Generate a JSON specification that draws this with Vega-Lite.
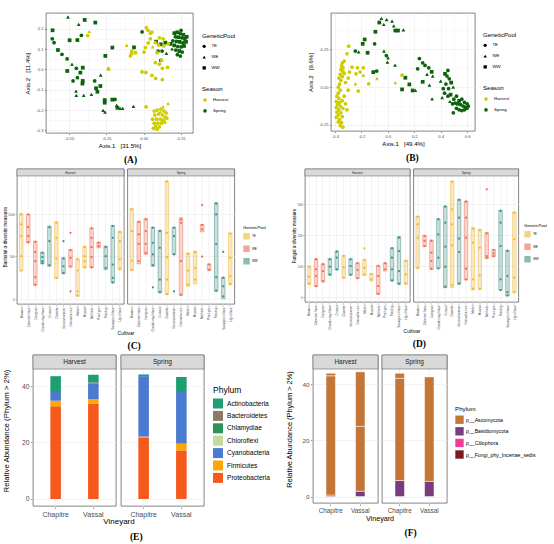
{
  "$schema": "https://vega.github.io/schema/vega-lite/v6.json",
  "padding": {"top": 12, "left": 1, "right": 0, "bottom": 0},
  "background": "white",
  "config": {
    "font": "Liberation Sans",
    "view": {"stroke": "#333333", "strokeWidth": 0.6},
    "axis": {"domain": false, "grid": true, "gridColor": "#ebebeb", "gridWidth": 0.6, "labelColor": "#4d4d4d", "tickColor": "#333333", "tickSize": 1.5, "tickWidth": 0.5, "titleColor": "#000000", "titleFontWeight": "normal", "labelPadding": 1.5, "titlePadding": 3},
    "header": {"titleFont": "Liberation Sans", "titleFontWeight": "normal", "titleColor": "#000000"},
    "legend": {"titleFontWeight": "normal", "titleColor": "#000000", "labelColor": "#000000", "layout": {"right": {"anchor": "middle", "direction": "vertical", "margin": 16}}},
    "title": {"font": "Liberation Serif", "fontWeight": "bold", "fontSize": 9.5, "color": "#000000", "orient": "bottom", "frame": "bounds", "anchor": "middle"}
  },
  "resolve": {"scale": {"color": "independent", "shape": "independent"}},
  "columns": 1,
  "spacing": 3,
  "concat": [
    {
      "resolve": {"scale": {"color": "independent", "shape": "independent"}},
      "spacing": 22,
      "hconcat": [
        {"width": 1, "height": 1, "view": {"stroke": null}, "data": {"values": [{"gap": 0}]}, "mark": {"type": "point", "size": 0, "opacity": 0}, "encoding": {}},
        {
          "resolve": {"scale": {"color": "independent", "shape": "independent"}},
          "spacing": 70,
          "hconcat": [
            {
              "title": {"text": "(A)", "offset": 7},
              "width": 147, "height": 120,
              "data": {"name": "ordA"},
              "encoding": {
                "x": {"field": "Axis1", "type": "quantitative", "title": "Axis.1\u00a0\u00a0\u00a0[31.5%]",
                  "scale": {"domain": [-0.654, 0.33], "nice": false, "zero": false},
                  "axis": {"values": [-0.625, -0.5, -0.375, -0.25, -0.125, 0, 0.125, 0.25],
                    "labelExpr": "abs(datum.value*4-round(datum.value*4))<1e-6 ? replace(format(datum.value,'.2f'),'\u2212','-') : ''",
                    "tickOpacity": {"condition": {"test": "abs(datum.value*4-round(datum.value*4))<1e-6", "value": 1}, "value": 0},
                    "gridWidth": {"condition": {"test": "abs(datum.value*4-round(datum.value*4))<1e-6", "value": 0.6}, "value": 0.3},
                    "labelFontSize": 4.1, "titleFontSize": 6.1, "titlePadding": 2}},
                "y": {"field": "Axis2", "type": "quantitative", "title": "Axis.2\u00a0\u00a0\u00a0[11.4%]",
                  "scale": {"domain": [-0.313, 0.277], "nice": false, "zero": false},
                  "axis": {"values": [-0.3, -0.25, -0.2, -0.15, -0.1, -0.05, 0, 0.05, 0.1, 0.15, 0.2, 0.25],
                    "labelExpr": "abs(datum.value*10-round(datum.value*10))<1e-6 ? replace(format(datum.value,'.1f'),'\u2212','-') : ''",
                    "tickOpacity": {"condition": {"test": "abs(datum.value*10-round(datum.value*10))<1e-6", "value": 1}, "value": 0},
                    "gridWidth": {"condition": {"test": "abs(datum.value*10-round(datum.value*10))<1e-6", "value": 0.6}, "value": 0.3},
                    "labelFontSize": 4.1, "titleFontSize": 6.1, "titlePadding": 5}}
              },
              "layer": [
                {"mark": {"type": "point", "filled": true, "size": 5, "color": "#000000", "opacity": 1},
                 "encoding": {"shape": {"field": "GeneticPool", "type": "nominal", "scale": {"domain": ["TE", "WE", "WW"], "range": ["circle", "triangle-up", "square"]},
                   "legend": {"title": "GeneticPool", "titleFontSize": 6.1, "labelFontSize": 4.4, "symbolSize": 11, "symbolFillColor": "#000000", "symbolStrokeColor": "#000000", "symbolStrokeWidth": 0, "rowPadding": 5.8, "titlePadding": 5, "offset": 9, "labelOffset": 5}}}},
                {"mark": {"type": "point", "filled": true, "size": 14, "opacity": 1},
                 "encoding": {
                   "shape": {"field": "GeneticPool", "type": "nominal"},
                   "color": {"field": "Season", "type": "nominal", "scale": {"domain": ["Harvest", "Spring"], "range": ["#CDCD00", "#0B640B"]},
                     "legend": {"title": "Season", "titleFontSize": 6.1, "labelFontSize": 4.4, "symbolSize": 13, "symbolType": "circle", "rowPadding": 5.8, "titlePadding": 5, "offset": 9, "labelOffset": 5}}}}
              ]
            },
            {
              "title": {"text": "(B)", "offset": 7},
              "width": 144, "height": 118,
              "data": {"name": "ordB"},
              "encoding": {
                "x": {"field": "Axis1", "type": "quantitative", "title": "Axis.1\u00a0\u00a0\u00a0[49.4%]",
                  "scale": {"domain": [-0.43, 0.66], "nice": false, "zero": false},
                  "axis": {"values": [-0.4, -0.3, -0.2, -0.1, 0, 0.1, 0.2, 0.3, 0.4, 0.5, 0.6],
                    "labelExpr": "abs(datum.value*5-round(datum.value*5))<1e-6 ? replace(format(datum.value,'.1f'),'\u2212','-') : ''",
                    "tickOpacity": {"condition": {"test": "abs(datum.value*5-round(datum.value*5))<1e-6", "value": 1}, "value": 0},
                    "gridWidth": {"condition": {"test": "abs(datum.value*5-round(datum.value*5))<1e-6", "value": 0.6}, "value": 0.3},
                    "labelFontSize": 4.1, "titleFontSize": 6.1, "titlePadding": 2}},
                "y": {"field": "Axis2", "type": "quantitative", "title": "Axis.2\u00a0\u00a0\u00a0[9.6%]",
                  "scale": {"domain": [-0.29, 0.49], "nice": false, "zero": false},
                  "axis": {"values": [-0.25, -0.125, 0, 0.125, 0.25, 0.375],
                    "labelExpr": "abs(datum.value*4-round(datum.value*4))<1e-6 ? replace(format(datum.value,'.2f'),'\u2212','-') : ''",
                    "tickOpacity": {"condition": {"test": "abs(datum.value*4-round(datum.value*4))<1e-6", "value": 1}, "value": 0},
                    "gridWidth": {"condition": {"test": "abs(datum.value*4-round(datum.value*4))<1e-6", "value": 0.6}, "value": 0.3},
                    "labelFontSize": 4.1, "titleFontSize": 6.1, "titlePadding": 5}}
              },
              "layer": [
                {"mark": {"type": "point", "filled": true, "size": 5, "color": "#000000", "opacity": 1},
                 "encoding": {"shape": {"field": "GeneticPool", "type": "nominal", "scale": {"domain": ["TE", "WE", "WW"], "range": ["circle", "triangle-up", "square"]},
                   "legend": {"title": "GeneticPool", "titleFontSize": 6.1, "labelFontSize": 4.4, "symbolSize": 11, "symbolFillColor": "#000000", "symbolStrokeColor": "#000000", "symbolStrokeWidth": 0, "rowPadding": 5.8, "titlePadding": 5, "offset": 8, "labelOffset": 5}}}},
                {"mark": {"type": "point", "filled": true, "size": 14, "opacity": 1},
                 "encoding": {
                   "shape": {"field": "GeneticPool", "type": "nominal"},
                   "color": {"field": "Season", "type": "nominal", "scale": {"domain": ["Harvest", "Spring"], "range": ["#CDCD00", "#0B640B"]},
                     "legend": {"title": "Season", "titleFontSize": 6.1, "labelFontSize": 4.4, "symbolSize": 13, "symbolType": "circle", "rowPadding": 5.8, "titlePadding": 5, "offset": 8, "labelOffset": 5}}}}
              ]
            }
          ]
        }
      ]
    },
    {
      "resolve": {"scale": {"color": "independent"}},
      "spacing": 0,
      "hconcat": [
        {"width": 1, "height": 1, "view": {"stroke": null}, "data": {"values": [{"gap": 0}]}, "mark": {"type": "point", "size": 0, "opacity": 0}, "encoding": {}},
        {
          "resolve": {"scale": {"color": "independent"}},
          "spacing": 25,
          "hconcat": [
            {
              "title": {"text": "(C)", "offset": 5},
              "data": {"name": "alphaBac"},
              "facet": {"column": {"field": "Season", "type": "nominal", "title": "Cultivar", "header": {"labels": false, "titleOrient": "bottom", "titleFontSize": 5, "titlePadding": -11}}},
              "spacing": 1.5,
              "spec": {
                "width": 107, "height": 135,
                "layer": [
                  {"transform": [{"filter": "isValid(datum.High)"}],
                   "mark": {"type": "bar", "width": {"band": 0.5}, "fillOpacity": 0.25},
                   "encoding": {
                     "x": {"field": "Cultivar", "type": "nominal", "title": null, "scale": {"paddingInner": 0, "paddingOuter": 0.1},
                       "axis": {"labelAngle": -90, "labelFontSize": 3, "grid": true, "bandPosition": 0.5, "tickSize": 1, "labelPadding": 1}},
                     "y": {"field": "Low", "type": "quantitative", "title": "Bacterial α-diversity measures",
                       "scale": {"domain": [-59, 1525], "nice": false, "zero": false},
                       "axis": {"values": [0, 250, 500, 750, 1000, 1250],
                         "labelExpr": "datum.value % 500 === 0 ? format(datum.value,'d') : ''",
                         "tickOpacity": {"condition": {"test": "datum.value % 500 === 0", "value": 1}, "value": 0},
                         "gridWidth": {"condition": {"test": "datum.value % 500 === 0", "value": 0.6}, "value": 0.3},
                         "labelFontSize": 2.8, "titleFontSize": 4.5, "tickSize": 1, "labelPadding": 1, "titlePadding": 0.5}},
                     "y2": {"field": "High"},
                     "color": {"field": "GeneticPool", "type": "nominal", "scale": {"domain": ["TE", "WE", "WW"], "range": ["#F0B52E", "#EF6A4F", "#3E8E84"]},
                       "legend": {"title": "GeneticPool", "orient": "none", "legendX": 226, "legendY": 57, "titleFontSize": 4.2, "labelFontSize": 3, "symbolType": "square", "symbolSize": 24, "symbolOpacity": 0.6, "rowPadding": 1.5, "titlePadding": 2.5, "labelOffset": 2}}}},
                  {"transform": [{"filter": "isValid(datum.High)"}],
                   "mark": {"type": "bar", "width": {"band": 0.5}, "filled": false, "strokeWidth": 0.5},
                   "encoding": {
                     "x": {"field": "Cultivar", "type": "nominal", "title": null},
                     "y": {"field": "Low", "type": "quantitative", "title": "Bacterial α-diversity measures"},
                     "y2": {"field": "High"},
                     "color": {"field": "GeneticPool", "type": "nominal"}}},
                  {"transform": [{"filter": "isValid(datum.Diversity)"}],
                   "mark": {"type": "circle", "size": 5, "opacity": 1},
                   "encoding": {
                     "x": {"field": "Cultivar", "type": "nominal", "title": null},
                     "y": {"field": "Diversity", "type": "quantitative", "title": "Bacterial α-diversity measures"},
                     "color": {"field": "GeneticPool", "type": "nominal"}}},
                  {"transform": [{"aggregate": [{"op": "count", "as": "n"}], "groupby": ["Season"]}],
                   "mark": {"type": "rect", "fill": "#d9d9d9", "stroke": "#333333", "strokeWidth": 0.4},
                   "encoding": {"y": {"datum": 1443, "type": "quantitative", "title": "Bacterial α-diversity measures"}, "y2": {"datum": 1525}}},
                  {"transform": [{"aggregate": [{"op": "count", "as": "n"}], "groupby": ["Season"]}],
                   "mark": {"type": "text", "fontSize": 3, "color": "#1a1a1a"},
                   "encoding": {"y": {"datum": 1484, "type": "quantitative", "title": "Bacterial α-diversity measures"}, "text": {"field": "Season"}}}
                ]
              }
            },
            {
              "title": {"text": "(D)", "offset": 5},
              "data": {"name": "alphaFun"},
              "facet": {"column": {"field": "Season", "type": "nominal", "title": "Cultivar", "header": {"labels": false, "titleOrient": "bottom", "titleFontSize": 5, "titlePadding": -11}}},
              "spacing": 1.5,
              "spec": {
                "width": 105, "height": 133,
                "layer": [
                  {"transform": [{"filter": "isValid(datum.High)"}],
                   "mark": {"type": "bar", "width": {"band": 0.5}, "fillOpacity": 0.25},
                   "encoding": {
                     "x": {"field": "Cultivar", "type": "nominal", "title": null, "scale": {"paddingInner": 0, "paddingOuter": 0.1},
                       "axis": {"labelAngle": -90, "labelFontSize": 3, "grid": true, "bandPosition": 0.5, "tickSize": 1, "labelPadding": 1}},
                     "y": {"field": "Low", "type": "quantitative", "title": "Fungal α-diversity measure",
                       "scale": {"domain": [-16, 411.5], "nice": false, "zero": false},
                       "axis": {"values": [0, 50, 100, 150, 200, 250, 300, 350],
                         "labelExpr": "datum.value % 100 === 0 ? format(datum.value,'d') : ''",
                         "tickOpacity": {"condition": {"test": "datum.value % 100 === 0", "value": 1}, "value": 0},
                         "gridWidth": {"condition": {"test": "datum.value % 100 === 0", "value": 0.6}, "value": 0.3},
                         "labelFontSize": 2.8, "titleFontSize": 4.5, "tickSize": 1, "labelPadding": 1, "titlePadding": 0.5}},
                     "y2": {"field": "High"},
                     "color": {"field": "GeneticPool", "type": "nominal", "scale": {"domain": ["TE", "WE", "WW"], "range": ["#F0B52E", "#EF6A4F", "#3E8E84"]},
                       "legend": {"title": "GeneticPool", "orient": "none", "legendX": 219, "legendY": 55, "titleFontSize": 4.2, "labelFontSize": 3, "symbolType": "square", "symbolSize": 24, "symbolOpacity": 0.6, "rowPadding": 1.5, "titlePadding": 2.5, "labelOffset": 2}}}},
                  {"transform": [{"filter": "isValid(datum.High)"}],
                   "mark": {"type": "bar", "width": {"band": 0.5}, "filled": false, "strokeWidth": 0.5},
                   "encoding": {
                     "x": {"field": "Cultivar", "type": "nominal", "title": null},
                     "y": {"field": "Low", "type": "quantitative", "title": "Fungal α-diversity measure"},
                     "y2": {"field": "High"},
                     "color": {"field": "GeneticPool", "type": "nominal"}}},
                  {"transform": [{"filter": "isValid(datum.Diversity)"}],
                   "mark": {"type": "circle", "size": 5, "opacity": 1},
                   "encoding": {
                     "x": {"field": "Cultivar", "type": "nominal", "title": null},
                     "y": {"field": "Diversity", "type": "quantitative", "title": "Fungal α-diversity measure"},
                     "color": {"field": "GeneticPool", "type": "nominal"}}},
                  {"transform": [{"aggregate": [{"op": "count", "as": "n"}], "groupby": ["Season"]}],
                   "mark": {"type": "rect", "fill": "#d9d9d9", "stroke": "#333333", "strokeWidth": 0.4},
                   "encoding": {"y": {"datum": 389, "type": "quantitative", "title": "Fungal α-diversity measure"}, "y2": {"datum": 411.5}}},
                  {"transform": [{"aggregate": [{"op": "count", "as": "n"}], "groupby": ["Season"]}],
                   "mark": {"type": "text", "fontSize": 3, "color": "#1a1a1a"},
                   "encoding": {"y": {"datum": 400, "type": "quantitative", "title": "Fungal α-diversity measure"}, "text": {"field": "Season"}}}
                ]
              }
            }
          ]
        }
      ]
    },
    {
      "resolve": {"scale": {"color": "independent"}},
      "spacing": 0,
      "hconcat": [
        {"width": 1, "height": 1, "view": {"stroke": null}, "data": {"values": [{"gap": 0}]}, "mark": {"type": "point", "size": 0, "opacity": 0}, "encoding": {}},
        {
          "resolve": {"scale": {"color": "independent"}},
          "spacing": 15,
          "hconcat": [
            {
              "title": {"text": "(E)", "offset": 6},
              "data": {"name": "bacPhyla"},
              "facet": {"column": {"field": "Season", "type": "nominal", "title": "Vineyard", "header": {"labels": false, "titleOrient": "bottom", "titleFontSize": 8, "titlePadding": -9}}},
              "spacing": 3,
              "spec": {
                "width": 83, "height": 151,
                "layer": [
                  {"mark": {"type": "bar", "width": {"band": 0.28}},
                   "encoding": {
                     "x": {"field": "Vineyard", "type": "nominal", "title": null, "scale": {"paddingInner": 0, "paddingOuter": 0.1},
                       "axis": {"labelAngle": 0, "labelFontSize": 7, "grid": true, "bandPosition": 0.5, "labelPadding": 1.5}},
                     "y": {"field": "Abundance", "type": "quantitative", "title": "Relative Abundance (Phylum > 2%)",
                       "scale": {"domain": [-2.5, 51], "nice": false, "zero": false},
                       "axis": {"values": [0, 5, 10, 15, 20, 25, 30, 35, 40, 45],
                         "labelExpr": "datum.value % 10 === 0 ? format(datum.value,'d') : ''",
                         "tickOpacity": {"condition": {"test": "datum.value % 10 === 0", "value": 1}, "value": 0},
                         "gridWidth": {"condition": {"test": "datum.value % 10 === 0", "value": 0.6}, "value": 0.3},
                         "labelFontSize": 6.8, "titleFontSize": 7.8, "titlePadding": 11}},
                     "color": {"field": "Phylum", "type": "nominal",
                       "scale": {"domain": ["Actinobacteria", "Bacteroidetes", "Chlamydiae", "Chloroflexi", "Cyanobacteria", "Firmicutes", "Proteobacteria"],
                         "range": ["#1E9E72", "#8C7A66", "#2A9456", "#C6D99B", "#4A7BD0", "#FFA505", "#F5591C"]},
                       "legend": {"title": "Phylum", "orient": "none", "legendX": 180, "legendY": 31, "titleFontSize": 8.5, "labelFontSize": 6.6, "symbolType": "square", "symbolSize": 100, "symbolStrokeWidth": 0, "rowPadding": 2.4, "titlePadding": 4, "labelOffset": 4}},
                     "order": {"field": "Phylum", "sort": "descending"}}},
                  {"transform": [{"aggregate": [{"op": "count", "as": "n"}], "groupby": ["Season"]}],
                   "mark": {"type": "rect", "fill": "#d9d9d9", "stroke": "#4d4d4d", "strokeWidth": 0.5},
                   "encoding": {"y": {"datum": 46, "type": "quantitative", "title": "Relative Abundance (Phylum > 2%)"}, "y2": {"datum": 51}}},
                  {"transform": [{"aggregate": [{"op": "count", "as": "n"}], "groupby": ["Season"]}],
                   "mark": {"type": "text", "fontSize": 6.6, "color": "#1a1a1a"},
                   "encoding": {"y": {"datum": 48.5, "type": "quantitative", "title": "Relative Abundance (Phylum > 2%)"}, "text": {"field": "Season"}}}
                ]
              }
            },
            {
              "title": {"text": "(F)", "offset": 6},
              "data": {"name": "fungPhyla"},
              "facet": {"column": {"field": "Season", "type": "nominal", "title": "Vineyard", "header": {"labels": false, "titleOrient": "bottom", "titleFontSize": 7.2, "titlePadding": -9}}},
              "spacing": 2,
              "spec": {
                "width": 65, "height": 148,
                "layer": [
                  {"mark": {"type": "bar", "width": {"band": 0.32}, "stroke": "#ffffff", "strokeWidth": 0.5},
                   "encoding": {
                     "x": {"field": "Vineyard", "type": "nominal", "title": null, "scale": {"paddingInner": 0, "paddingOuter": 0.1},
                       "axis": {"labelAngle": 0, "labelFontSize": 6.4, "grid": true, "bandPosition": 0.5, "labelPadding": 1.5}},
                     "y": {"field": "Abundance", "type": "quantitative", "title": "Relative Abundance (Phylum > 2%)",
                       "scale": {"domain": [-2.3, 50.4], "nice": false, "zero": false},
                       "axis": {"values": [0, 5, 10, 15, 20, 25, 30, 35, 40, 45],
                         "labelExpr": "datum.value % 10 === 0 ? format(datum.value,'d') : ''",
                         "tickOpacity": {"condition": {"test": "datum.value % 10 === 0", "value": 1}, "value": 0},
                         "gridWidth": {"condition": {"test": "datum.value % 10 === 0", "value": 0.6}, "value": 0.3},
                         "labelFontSize": 6.2, "titleFontSize": 7.4, "titlePadding": 9}},
                     "color": {"field": "Phylum", "type": "nominal",
                       "scale": {"domain": ["p__Ascomycota", "p__Basidiomycota", "p__Ciliophora", "p__Fungi_phy_Incertae_sedis"],
                         "range": ["#C47636", "#793A80", "#EE3E96", "#7A1C1C"]},
                       "legend": {"title": "Phylum", "orient": "none", "legendX": 142, "legendY": 51, "titleFontSize": 6.2, "labelFontSize": 5.2, "symbolType": "square", "symbolSize": 70, "symbolStrokeWidth": 0, "rowPadding": 2.6, "titlePadding": 3, "labelOffset": 2}},
                     "order": {"field": "Phylum", "sort": "descending"}}},
                  {"transform": [{"aggregate": [{"op": "count", "as": "n"}], "groupby": ["Season"]}],
                   "mark": {"type": "rect", "fill": "#d9d9d9", "stroke": "#4d4d4d", "strokeWidth": 0.5},
                   "encoding": {"y": {"datum": 45.4, "type": "quantitative", "title": "Relative Abundance (Phylum > 2%)"}, "y2": {"datum": 50.4}}},
                  {"transform": [{"aggregate": [{"op": "count", "as": "n"}], "groupby": ["Season"]}],
                   "mark": {"type": "text", "fontSize": 6.4, "color": "#1a1a1a"},
                   "encoding": {"y": {"datum": 47.9, "type": "quantitative", "title": "Relative Abundance (Phylum > 2%)"}, "text": {"field": "Season"}}}
                ]
              }
            }
          ]
        }
      ]
    }
  ],
  "datasets": {
    "ordA": [
      {"Axis1": -0.507, "Axis2": 0.257, "Season": "Spring", "GeneticPool": "WE"},
      {"Axis1": -0.395, "Axis2": 0.243, "Season": "Spring", "GeneticPool": "WW"},
      {"Axis1": -0.435, "Axis2": 0.221, "Season": "Spring", "GeneticPool": "WE"},
      {"Axis1": -0.324, "Axis2": 0.230, "Season": "Spring", "GeneticPool": "WW"},
      {"Axis1": -0.610, "Axis2": 0.192, "Season": "Spring", "GeneticPool": "WW"},
      {"Axis1": -0.612, "Axis2": 0.150, "Season": "Spring", "GeneticPool": "TE"},
      {"Axis1": -0.600, "Axis2": 0.131, "Season": "Spring", "GeneticPool": "TE"},
      {"Axis1": -0.574, "Axis2": 0.095, "Season": "Spring", "GeneticPool": "WW"},
      {"Axis1": -0.547, "Axis2": 0.074, "Season": "Spring", "GeneticPool": "TE"},
      {"Axis1": -0.496, "Axis2": 0.143, "Season": "Spring", "GeneticPool": "WW"},
      {"Axis1": -0.444, "Axis2": 0.144, "Season": "Spring", "GeneticPool": "WW"},
      {"Axis1": -0.417, "Axis2": 0.167, "Season": "Spring", "GeneticPool": "TE"},
      {"Axis1": -0.513, "Axis2": 0.051, "Season": "Spring", "GeneticPool": "TE"},
      {"Axis1": -0.480, "Axis2": 0.025, "Season": "Spring", "GeneticPool": "WE"},
      {"Axis1": -0.512, "Axis2": -0.008, "Season": "Spring", "GeneticPool": "WW"},
      {"Axis1": -0.451, "Axis2": 0.005, "Season": "Spring", "GeneticPool": "TE"},
      {"Axis1": -0.424, "Axis2": -0.016, "Season": "Spring", "GeneticPool": "WW"},
      {"Axis1": -0.408, "Axis2": 0.008, "Season": "Spring", "GeneticPool": "WW"},
      {"Axis1": -0.444, "Axis2": -0.041, "Season": "Spring", "GeneticPool": "TE"},
      {"Axis1": -0.473, "Axis2": -0.057, "Season": "Spring", "GeneticPool": "TE"},
      {"Axis1": -0.408, "Axis2": -0.057, "Season": "Spring", "GeneticPool": "WW"},
      {"Axis1": -0.410, "Axis2": -0.070, "Season": "Spring", "GeneticPool": "WW"},
      {"Axis1": -0.453, "Axis2": -0.107, "Season": "Spring", "GeneticPool": "WE"},
      {"Axis1": -0.451, "Axis2": -0.128, "Season": "Spring", "GeneticPool": "WE"},
      {"Axis1": -0.402, "Axis2": -0.128, "Season": "Spring", "GeneticPool": "WE"},
      {"Axis1": -0.350, "Axis2": -0.123, "Season": "Spring", "GeneticPool": "WE"},
      {"Axis1": -0.328, "Axis2": -0.057, "Season": "Spring", "GeneticPool": "TE"},
      {"Axis1": -0.319, "Axis2": -0.093, "Season": "Spring", "GeneticPool": "WW"},
      {"Axis1": -0.310, "Axis2": -0.110, "Season": "Spring", "GeneticPool": "WW"},
      {"Axis1": -0.288, "Axis2": -0.028, "Season": "Spring", "GeneticPool": "WE"},
      {"Axis1": -0.290, "Axis2": -0.082, "Season": "Spring", "GeneticPool": "WW"},
      {"Axis1": -0.261, "Axis2": -0.151, "Season": "Spring", "GeneticPool": "WW"},
      {"Axis1": -0.261, "Axis2": -0.164, "Season": "Spring", "GeneticPool": "WW"},
      {"Axis1": -0.272, "Axis2": -0.202, "Season": "Spring", "GeneticPool": "WE"},
      {"Axis1": -0.259, "Axis2": -0.210, "Season": "Spring", "GeneticPool": "WE"},
      {"Axis1": -0.210, "Axis2": -0.149, "Season": "Spring", "GeneticPool": "WW"},
      {"Axis1": -0.192, "Axis2": -0.148, "Season": "Spring", "GeneticPool": "TE"},
      {"Axis1": -0.181, "Axis2": -0.177, "Season": "Spring", "GeneticPool": "WE"},
      {"Axis1": -0.176, "Axis2": -0.189, "Season": "Spring", "GeneticPool": "WW"},
      {"Axis1": -0.158, "Axis2": -0.192, "Season": "Spring", "GeneticPool": "WE"},
      {"Axis1": -0.141, "Axis2": -0.192, "Season": "Spring", "GeneticPool": "WE"},
      {"Axis1": -0.069, "Axis2": -0.182, "Season": "Spring", "GeneticPool": "WE"},
      {"Axis1": -0.257, "Axis2": 0.066, "Season": "Spring", "GeneticPool": "WW"},
      {"Axis1": -0.237, "Axis2": 0.005, "Season": "Spring", "GeneticPool": "WE"},
      {"Axis1": -0.210, "Axis2": 0.107, "Season": "Spring", "GeneticPool": "WW"},
      {"Axis1": -0.065, "Axis2": 0.108, "Season": "Spring", "GeneticPool": "WW"},
      {"Axis1": -0.011, "Axis2": 0.184, "Season": "Spring", "GeneticPool": "TE"},
      {"Axis1": 0.083, "Axis2": 0.136, "Season": "Spring", "GeneticPool": "WW"},
      {"Axis1": 0.114, "Axis2": 0.123, "Season": "Spring", "GeneticPool": "WW"},
      {"Axis1": 0.114, "Axis2": 0.044, "Season": "Spring", "GeneticPool": "TE"},
      {"Axis1": 0.145, "Axis2": 0.131, "Season": "Spring", "GeneticPool": "WW"},
      {"Axis1": 0.096, "Axis2": 0.090, "Season": "Spring", "GeneticPool": "TE"},
      {"Axis1": 0.123, "Axis2": 0.090, "Season": "Spring", "GeneticPool": "TE"},
      {"Axis1": 0.152, "Axis2": 0.079, "Season": "Spring", "GeneticPool": "WE"},
      {"Axis1": 0.205, "Axis2": 0.178, "Season": "Spring", "GeneticPool": "WW"},
      {"Axis1": 0.225, "Axis2": 0.182, "Season": "Spring", "GeneticPool": "WW"},
      {"Axis1": 0.245, "Axis2": 0.176, "Season": "Spring", "GeneticPool": "TE"},
      {"Axis1": 0.265, "Axis2": 0.170, "Season": "Spring", "GeneticPool": "WW"},
      {"Axis1": 0.212, "Axis2": 0.160, "Season": "Spring", "GeneticPool": "TE"},
      {"Axis1": 0.232, "Axis2": 0.158, "Season": "Spring", "GeneticPool": "WW"},
      {"Axis1": 0.255, "Axis2": 0.155, "Season": "Spring", "GeneticPool": "TE"},
      {"Axis1": 0.275, "Axis2": 0.150, "Season": "Spring", "GeneticPool": "WW"},
      {"Axis1": 0.195, "Axis2": 0.140, "Season": "Spring", "GeneticPool": "TE"},
      {"Axis1": 0.218, "Axis2": 0.138, "Season": "Spring", "GeneticPool": "TE"},
      {"Axis1": 0.240, "Axis2": 0.135, "Season": "Spring", "GeneticPool": "WW"},
      {"Axis1": 0.262, "Axis2": 0.130, "Season": "Spring", "GeneticPool": "TE"},
      {"Axis1": 0.283, "Axis2": 0.135, "Season": "Spring", "GeneticPool": "WW"},
      {"Axis1": 0.205, "Axis2": 0.118, "Season": "Spring", "GeneticPool": "WW"},
      {"Axis1": 0.228, "Axis2": 0.112, "Season": "Spring", "GeneticPool": "TE"},
      {"Axis1": 0.250, "Axis2": 0.110, "Season": "Spring", "GeneticPool": "TE"},
      {"Axis1": 0.270, "Axis2": 0.115, "Season": "Spring", "GeneticPool": "WW"},
      {"Axis1": 0.215, "Axis2": 0.095, "Season": "Spring", "GeneticPool": "TE"},
      {"Axis1": 0.238, "Axis2": 0.090, "Season": "Spring", "GeneticPool": "WW"},
      {"Axis1": 0.258, "Axis2": 0.085, "Season": "Spring", "GeneticPool": "TE"},
      {"Axis1": 0.225, "Axis2": 0.072, "Season": "Spring", "GeneticPool": "TE"},
      {"Axis1": 0.245, "Axis2": 0.065, "Season": "Spring", "GeneticPool": "TE"},
      {"Axis1": 0.190, "Axis2": 0.100, "Season": "Spring", "GeneticPool": "WE"},
      {"Axis1": 0.180, "Axis2": 0.125, "Season": "Spring", "GeneticPool": "WW"},
      {"Axis1": 0.288, "Axis2": 0.160, "Season": "Spring", "GeneticPool": "WW"},
      {"Axis1": 0.250, "Axis2": 0.192, "Season": "Spring", "GeneticPool": "TE"},
      {"Axis1": -0.375, "Axis2": 0.166, "Season": "Harvest", "GeneticPool": "TE"},
      {"Axis1": -0.364, "Axis2": 0.185, "Season": "Harvest", "GeneticPool": "WE"},
      {"Axis1": -0.114, "Axis2": 0.118, "Season": "Harvest", "GeneticPool": "WE"},
      {"Axis1": -0.089, "Axis2": 0.066, "Season": "Harvest", "GeneticPool": "TE"},
      {"Axis1": -0.082, "Axis2": 0.078, "Season": "Harvest", "GeneticPool": "TE"},
      {"Axis1": -0.056, "Axis2": 0.082, "Season": "Harvest", "GeneticPool": "WW"},
      {"Axis1": 0.018, "Axis2": 0.205, "Season": "Harvest", "GeneticPool": "TE"},
      {"Axis1": 0.029, "Axis2": 0.192, "Season": "Harvest", "GeneticPool": "TE"},
      {"Axis1": 0.045, "Axis2": 0.177, "Season": "Harvest", "GeneticPool": "TE"},
      {"Axis1": 0.055, "Axis2": 0.183, "Season": "Harvest", "GeneticPool": "TE"},
      {"Axis1": 0.011, "Axis2": 0.107, "Season": "Harvest", "GeneticPool": "TE"},
      {"Axis1": 0.002, "Axis2": 0.085, "Season": "Harvest", "GeneticPool": "TE"},
      {"Axis1": 0.078, "Axis2": 0.131, "Season": "Harvest", "GeneticPool": "TE"},
      {"Axis1": 0.089, "Axis2": 0.082, "Season": "Harvest", "GeneticPool": "TE"},
      {"Axis1": -0.234, "Axis2": 0.000, "Season": "Harvest", "GeneticPool": "TE"},
      {"Axis1": 0.078, "Axis2": 0.033, "Season": "Harvest", "GeneticPool": "TE"},
      {"Axis1": 0.105, "Axis2": 0.025, "Season": "Harvest", "GeneticPool": "TE"},
      {"Axis1": 0.125, "Axis2": 0.005, "Season": "Harvest", "GeneticPool": "TE"},
      {"Axis1": 0.160, "Axis2": 0.010, "Season": "Harvest", "GeneticPool": "TE"},
      {"Axis1": 0.120, "Axis2": 0.045, "Season": "Harvest", "GeneticPool": "TE"},
      {"Axis1": -0.011, "Axis2": -0.013, "Season": "Harvest", "GeneticPool": "TE"},
      {"Axis1": 0.015, "Axis2": -0.015, "Season": "Harvest", "GeneticPool": "TE"},
      {"Axis1": 0.055, "Axis2": -0.030, "Season": "Harvest", "GeneticPool": "TE"},
      {"Axis1": 0.080, "Axis2": -0.045, "Season": "Harvest", "GeneticPool": "TE"},
      {"Axis1": 0.125, "Axis2": -0.050, "Season": "Harvest", "GeneticPool": "TE"},
      {"Axis1": 0.060, "Axis2": 0.110, "Season": "Harvest", "GeneticPool": "WE"},
      {"Axis1": 0.100, "Axis2": 0.120, "Season": "Harvest", "GeneticPool": "TE"},
      {"Axis1": 0.135, "Axis2": 0.115, "Season": "Harvest", "GeneticPool": "TE"},
      {"Axis1": 0.165, "Axis2": 0.125, "Season": "Harvest", "GeneticPool": "TE"},
      {"Axis1": 0.030, "Axis2": 0.130, "Season": "Harvest", "GeneticPool": "TE"},
      {"Axis1": 0.016, "Axis2": -0.184, "Season": "Harvest", "GeneticPool": "TE"},
      {"Axis1": 0.163, "Axis2": -0.169, "Season": "Harvest", "GeneticPool": "WE"},
      {"Axis1": 0.070, "Axis2": -0.205, "Season": "Harvest", "GeneticPool": "TE"},
      {"Axis1": 0.090, "Axis2": -0.200, "Season": "Harvest", "GeneticPool": "TE"},
      {"Axis1": 0.115, "Axis2": -0.195, "Season": "Harvest", "GeneticPool": "TE"},
      {"Axis1": 0.135, "Axis2": -0.205, "Season": "Harvest", "GeneticPool": "TE"},
      {"Axis1": 0.150, "Axis2": -0.215, "Season": "Harvest", "GeneticPool": "TE"},
      {"Axis1": 0.075, "Axis2": -0.225, "Season": "Harvest", "GeneticPool": "TE"},
      {"Axis1": 0.100, "Axis2": -0.220, "Season": "Harvest", "GeneticPool": "TE"},
      {"Axis1": 0.125, "Axis2": -0.225, "Season": "Harvest", "GeneticPool": "TE"},
      {"Axis1": 0.145, "Axis2": -0.235, "Season": "Harvest", "GeneticPool": "TE"},
      {"Axis1": 0.060, "Axis2": -0.245, "Season": "Harvest", "GeneticPool": "TE"},
      {"Axis1": 0.085, "Axis2": -0.245, "Season": "Harvest", "GeneticPool": "TE"},
      {"Axis1": 0.110, "Axis2": -0.245, "Season": "Harvest", "GeneticPool": "TE"},
      {"Axis1": 0.130, "Axis2": -0.250, "Season": "Harvest", "GeneticPool": "TE"},
      {"Axis1": 0.070, "Axis2": -0.265, "Season": "Harvest", "GeneticPool": "TE"},
      {"Axis1": 0.095, "Axis2": -0.265, "Season": "Harvest", "GeneticPool": "TE"},
      {"Axis1": 0.118, "Axis2": -0.265, "Season": "Harvest", "GeneticPool": "TE"},
      {"Axis1": 0.080, "Axis2": -0.280, "Season": "Harvest", "GeneticPool": "TE"},
      {"Axis1": 0.105, "Axis2": -0.283, "Season": "Harvest", "GeneticPool": "TE"},
      {"Axis1": 0.065, "Axis2": -0.290, "Season": "Harvest", "GeneticPool": "TE"},
      {"Axis1": 0.140, "Axis2": -0.260, "Season": "Harvest", "GeneticPool": "TE"},
      {"Axis1": 0.155, "Axis2": -0.240, "Season": "Harvest", "GeneticPool": "TE"},
      {"Axis1": 0.090, "Axis2": -0.295, "Season": "Harvest", "GeneticPool": "TE"},
      {"Axis1": 0.110, "Axis2": -0.210, "Season": "Harvest", "GeneticPool": "WE"},
      {"Axis1": 0.130, "Axis2": -0.185, "Season": "Harvest", "GeneticPool": "WE"},
      {"Axis1": 0.045, "Axis2": 0.150, "Season": "Harvest", "GeneticPool": "TE"},
      {"Axis1": -0.080, "Axis2": 0.090, "Season": "Harvest", "GeneticPool": "TE"},
      {"Axis1": 0.130, "Axis2": 0.150, "Season": "Harvest", "GeneticPool": "TE"},
      {"Axis1": 0.105, "Axis2": 0.155, "Season": "Harvest", "GeneticPool": "TE"}
    ],
    "ordB": [
      {"Axis1": -0.049, "Axis2": 0.454, "Season": "Spring", "GeneticPool": "WE"},
      {"Axis1": -0.009, "Axis2": 0.447, "Season": "Spring", "GeneticPool": "WE"},
      {"Axis1": 0.032, "Axis2": 0.436, "Season": "Spring", "GeneticPool": "WE"},
      {"Axis1": -0.031, "Axis2": 0.414, "Season": "Spring", "GeneticPool": "WE"},
      {"Axis1": -0.064, "Axis2": 0.427, "Season": "Spring", "GeneticPool": "WW"},
      {"Axis1": 0.045, "Axis2": 0.405, "Season": "Spring", "GeneticPool": "WE"},
      {"Axis1": 0.057, "Axis2": 0.374, "Season": "Spring", "GeneticPool": "WW"},
      {"Axis1": 0.077, "Axis2": 0.374, "Season": "Spring", "GeneticPool": "WW"},
      {"Axis1": 0.118, "Axis2": 0.379, "Season": "Spring", "GeneticPool": "WE"},
      {"Axis1": -0.094, "Axis2": 0.366, "Season": "Spring", "GeneticPool": "WW"},
      {"Axis1": -0.175, "Axis2": 0.315, "Season": "Spring", "GeneticPool": "WW"},
      {"Axis1": -0.190, "Axis2": 0.286, "Season": "Spring", "GeneticPool": "WW"},
      {"Axis1": -0.100, "Axis2": 0.286, "Season": "Spring", "GeneticPool": "TE"},
      {"Axis1": -0.246, "Axis2": 0.238, "Season": "Spring", "GeneticPool": "TE"},
      {"Axis1": -0.221, "Axis2": 0.233, "Season": "Spring", "GeneticPool": "WE"},
      {"Axis1": -0.153, "Axis2": 0.227, "Season": "Spring", "GeneticPool": "WW"},
      {"Axis1": -0.029, "Axis2": 0.238, "Season": "Spring", "GeneticPool": "WE"},
      {"Axis1": -0.011, "Axis2": 0.209, "Season": "Spring", "GeneticPool": "TE"},
      {"Axis1": 0.002, "Axis2": 0.194, "Season": "Spring", "GeneticPool": "WE"},
      {"Axis1": -0.003, "Axis2": 0.165, "Season": "Spring", "GeneticPool": "WE"},
      {"Axis1": 0.055, "Axis2": 0.145, "Season": "Spring", "GeneticPool": "WE"},
      {"Axis1": -0.110, "Axis2": 0.099, "Season": "Spring", "GeneticPool": "WW"},
      {"Axis1": -0.084, "Axis2": 0.106, "Season": "Spring", "GeneticPool": "TE"},
      {"Axis1": 0.239, "Axis2": 0.189, "Season": "Spring", "GeneticPool": "TE"},
      {"Axis1": 0.264, "Axis2": 0.161, "Season": "Spring", "GeneticPool": "TE"},
      {"Axis1": 0.282, "Axis2": 0.143, "Season": "Spring", "GeneticPool": "TE"},
      {"Axis1": 0.310, "Axis2": 0.128, "Season": "Spring", "GeneticPool": "TE"},
      {"Axis1": 0.226, "Axis2": 0.121, "Season": "Spring", "GeneticPool": "TE"},
      {"Axis1": 0.297, "Axis2": 0.084, "Season": "Spring", "GeneticPool": "WE"},
      {"Axis1": 0.332, "Axis2": 0.101, "Season": "Spring", "GeneticPool": "WW"},
      {"Axis1": 0.340, "Axis2": 0.073, "Season": "Spring", "GeneticPool": "WE"},
      {"Axis1": 0.133, "Axis2": 0.062, "Season": "Spring", "GeneticPool": "WW"},
      {"Axis1": 0.163, "Axis2": 0.018, "Season": "Spring", "GeneticPool": "WW"},
      {"Axis1": 0.108, "Axis2": -0.015, "Season": "Spring", "GeneticPool": "WW"},
      {"Axis1": 0.188, "Axis2": -0.022, "Season": "Spring", "GeneticPool": "WW"},
      {"Axis1": 0.209, "Axis2": -0.022, "Season": "Spring", "GeneticPool": "WE"},
      {"Axis1": 0.264, "Axis2": 0.035, "Season": "Spring", "GeneticPool": "WW"},
      {"Axis1": 0.315, "Axis2": 0.013, "Season": "Spring", "GeneticPool": "WE"},
      {"Axis1": 0.335, "Axis2": -0.077, "Season": "Spring", "GeneticPool": "WE"},
      {"Axis1": 0.411, "Axis2": -0.070, "Season": "Spring", "GeneticPool": "WE"},
      {"Axis1": 0.433, "Axis2": 0.088, "Season": "Spring", "GeneticPool": "WW"},
      {"Axis1": 0.448, "Axis2": 0.073, "Season": "Spring", "GeneticPool": "TE"},
      {"Axis1": 0.465, "Axis2": 0.055, "Season": "Spring", "GeneticPool": "TE"},
      {"Axis1": 0.480, "Axis2": 0.030, "Season": "Spring", "GeneticPool": "WW"},
      {"Axis1": 0.440, "Axis2": 0.020, "Season": "Spring", "GeneticPool": "TE"},
      {"Axis1": 0.460, "Axis2": -0.010, "Season": "Spring", "GeneticPool": "TE"},
      {"Axis1": 0.495, "Axis2": 0.000, "Season": "Spring", "GeneticPool": "WE"},
      {"Axis1": 0.430, "Axis2": -0.040, "Season": "Spring", "GeneticPool": "TE"},
      {"Axis1": 0.455, "Axis2": -0.060, "Season": "Spring", "GeneticPool": "TE"},
      {"Axis1": 0.475, "Axis2": -0.050, "Season": "Spring", "GeneticPool": "WW"},
      {"Axis1": 0.500, "Axis2": -0.080, "Season": "Spring", "GeneticPool": "TE"},
      {"Axis1": 0.520, "Axis2": -0.060, "Season": "Spring", "GeneticPool": "TE"},
      {"Axis1": 0.540, "Axis2": -0.090, "Season": "Spring", "GeneticPool": "WW"},
      {"Axis1": 0.560, "Axis2": -0.080, "Season": "Spring", "GeneticPool": "TE"},
      {"Axis1": 0.580, "Axis2": -0.100, "Season": "Spring", "GeneticPool": "TE"},
      {"Axis1": 0.600, "Axis2": -0.110, "Season": "Spring", "GeneticPool": "TE"},
      {"Axis1": 0.610, "Axis2": -0.125, "Season": "Spring", "GeneticPool": "TE"},
      {"Axis1": 0.590, "Axis2": -0.135, "Season": "Spring", "GeneticPool": "WW"},
      {"Axis1": 0.570, "Axis2": -0.125, "Season": "Spring", "GeneticPool": "TE"},
      {"Axis1": 0.550, "Axis2": -0.115, "Season": "Spring", "GeneticPool": "TE"},
      {"Axis1": 0.530, "Axis2": -0.110, "Season": "Spring", "GeneticPool": "WW"},
      {"Axis1": 0.510, "Axis2": -0.105, "Season": "Spring", "GeneticPool": "TE"},
      {"Axis1": 0.490, "Axis2": -0.110, "Season": "Spring", "GeneticPool": "TE"},
      {"Axis1": 0.470, "Axis2": -0.095, "Season": "Spring", "GeneticPool": "WE"},
      {"Axis1": 0.520, "Axis2": -0.140, "Season": "Spring", "GeneticPool": "TE"},
      {"Axis1": 0.540, "Axis2": -0.150, "Season": "Spring", "GeneticPool": "TE"},
      {"Axis1": 0.560, "Axis2": -0.155, "Season": "Spring", "GeneticPool": "TE"},
      {"Axis1": 0.580, "Axis2": -0.150, "Season": "Spring", "GeneticPool": "TE"},
      {"Axis1": 0.496, "Axis2": -0.170, "Season": "Spring", "GeneticPool": "TE"},
      {"Axis1": 0.600, "Axis2": -0.140, "Season": "Spring", "GeneticPool": "TE"},
      {"Axis1": 0.455, "Axis2": 0.110, "Season": "Spring", "GeneticPool": "TE"},
      {"Axis1": 0.400, "Axis2": 0.040, "Season": "Spring", "GeneticPool": "WE"},
      {"Axis1": 0.420, "Axis2": -0.010, "Season": "Spring", "GeneticPool": "TE"},
      {"Axis1": -0.296, "Axis2": 0.271, "Season": "Harvest", "GeneticPool": "TE"},
      {"Axis1": -0.309, "Axis2": 0.220, "Season": "Harvest", "GeneticPool": "TE"},
      {"Axis1": -0.329, "Axis2": 0.172, "Season": "Harvest", "GeneticPool": "TE"},
      {"Axis1": -0.345, "Axis2": 0.160, "Season": "Harvest", "GeneticPool": "TE"},
      {"Axis1": -0.350, "Axis2": 0.140, "Season": "Harvest", "GeneticPool": "TE"},
      {"Axis1": -0.340, "Axis2": 0.130, "Season": "Harvest", "GeneticPool": "TE"},
      {"Axis1": -0.355, "Axis2": 0.115, "Season": "Harvest", "GeneticPool": "TE"},
      {"Axis1": -0.340, "Axis2": 0.105, "Season": "Harvest", "GeneticPool": "TE"},
      {"Axis1": -0.330, "Axis2": 0.090, "Season": "Harvest", "GeneticPool": "TE"},
      {"Axis1": -0.360, "Axis2": 0.085, "Season": "Harvest", "GeneticPool": "TE"},
      {"Axis1": -0.345, "Axis2": 0.070, "Season": "Harvest", "GeneticPool": "TE"},
      {"Axis1": -0.370, "Axis2": 0.060, "Season": "Harvest", "GeneticPool": "TE"},
      {"Axis1": -0.355, "Axis2": 0.045, "Season": "Harvest", "GeneticPool": "TE"},
      {"Axis1": -0.365, "Axis2": 0.020, "Season": "Harvest", "GeneticPool": "TE"},
      {"Axis1": -0.375, "Axis2": 0.000, "Season": "Harvest", "GeneticPool": "TE"},
      {"Axis1": -0.360, "Axis2": -0.020, "Season": "Harvest", "GeneticPool": "TE"},
      {"Axis1": -0.375, "Axis2": -0.040, "Season": "Harvest", "GeneticPool": "TE"},
      {"Axis1": -0.385, "Axis2": -0.060, "Season": "Harvest", "GeneticPool": "TE"},
      {"Axis1": -0.370, "Axis2": -0.075, "Season": "Harvest", "GeneticPool": "TE"},
      {"Axis1": -0.390, "Axis2": -0.095, "Season": "Harvest", "GeneticPool": "TE"},
      {"Axis1": -0.365, "Axis2": -0.100, "Season": "Harvest", "GeneticPool": "TE"},
      {"Axis1": -0.345, "Axis2": -0.090, "Season": "Harvest", "GeneticPool": "TE"},
      {"Axis1": -0.380, "Axis2": -0.115, "Season": "Harvest", "GeneticPool": "TE"},
      {"Axis1": -0.360, "Axis2": -0.125, "Season": "Harvest", "GeneticPool": "TE"},
      {"Axis1": -0.390, "Axis2": -0.135, "Season": "Harvest", "GeneticPool": "TE"},
      {"Axis1": -0.340, "Axis2": -0.140, "Season": "Harvest", "GeneticPool": "TE"},
      {"Axis1": -0.370, "Axis2": -0.150, "Season": "Harvest", "GeneticPool": "TE"},
      {"Axis1": -0.385, "Axis2": -0.165, "Season": "Harvest", "GeneticPool": "TE"},
      {"Axis1": -0.355, "Axis2": -0.170, "Season": "Harvest", "GeneticPool": "TE"},
      {"Axis1": -0.375, "Axis2": -0.185, "Season": "Harvest", "GeneticPool": "TE"},
      {"Axis1": -0.345, "Axis2": -0.195, "Season": "Harvest", "GeneticPool": "TE"},
      {"Axis1": -0.390, "Axis2": -0.200, "Season": "Harvest", "GeneticPool": "TE"},
      {"Axis1": -0.365, "Axis2": -0.215, "Season": "Harvest", "GeneticPool": "TE"},
      {"Axis1": -0.375, "Axis2": -0.230, "Season": "Harvest", "GeneticPool": "TE"},
      {"Axis1": -0.350, "Axis2": -0.235, "Season": "Harvest", "GeneticPool": "TE"},
      {"Axis1": -0.360, "Axis2": -0.255, "Season": "Harvest", "GeneticPool": "TE"},
      {"Axis1": -0.340, "Axis2": -0.265, "Season": "Harvest", "GeneticPool": "TE"},
      {"Axis1": -0.320, "Axis2": -0.110, "Season": "Harvest", "GeneticPool": "TE"},
      {"Axis1": -0.330, "Axis2": -0.060, "Season": "Harvest", "GeneticPool": "TE"},
      {"Axis1": -0.310, "Axis2": -0.150, "Season": "Harvest", "GeneticPool": "TE"},
      {"Axis1": -0.271, "Axis2": 0.132, "Season": "Harvest", "GeneticPool": "TE"},
      {"Axis1": -0.230, "Axis2": 0.128, "Season": "Harvest", "GeneticPool": "TE"},
      {"Axis1": -0.185, "Axis2": 0.128, "Season": "Harvest", "GeneticPool": "TE"},
      {"Axis1": -0.241, "Axis2": 0.088, "Season": "Harvest", "GeneticPool": "TE"},
      {"Axis1": -0.185, "Axis2": 0.079, "Season": "Harvest", "GeneticPool": "WE"},
      {"Axis1": -0.246, "Axis2": 0.022, "Season": "Harvest", "GeneticPool": "WE"},
      {"Axis1": -0.224, "Axis2": -0.026, "Season": "Harvest", "GeneticPool": "TE"},
      {"Axis1": -0.145, "Axis2": 0.022, "Season": "Harvest", "GeneticPool": "TE"},
      {"Axis1": -0.082, "Axis2": 0.057, "Season": "Harvest", "GeneticPool": "WE"},
      {"Axis1": 0.057, "Axis2": 0.029, "Season": "Harvest", "GeneticPool": "WE"},
      {"Axis1": 0.108, "Axis2": 0.079, "Season": "Harvest", "GeneticPool": "TE"},
      {"Axis1": -0.290, "Axis2": 0.100, "Season": "Harvest", "GeneticPool": "TE"},
      {"Axis1": -0.300, "Axis2": 0.060, "Season": "Harvest", "GeneticPool": "TE"},
      {"Axis1": -0.300, "Axis2": -0.020, "Season": "Harvest", "GeneticPool": "TE"},
      {"Axis1": -0.320, "Axis2": 0.030, "Season": "Harvest", "GeneticPool": "TE"},
      {"Axis1": -0.210, "Axis2": 0.100, "Season": "Harvest", "GeneticPool": "TE"}
    ],
    "alphaBac": [
      {"Season": "Harvest", "Cultivar": "Aramon", "GeneticPool": "TE", "Low": 333, "High": 1000},
      {"Season": "Harvest", "Cultivar": "Aramon", "GeneticPool": "TE", "Diversity": 992},
      {"Season": "Harvest", "Cultivar": "Aramon", "GeneticPool": "TE", "Diversity": 875},
      {"Season": "Harvest", "Cultivar": "Aramon", "GeneticPool": "TE", "Diversity": 737},
      {"Season": "Harvest", "Cultivar": "Aramon", "GeneticPool": "TE", "Diversity": 502},
      {"Season": "Harvest", "Cultivar": "Aramon", "GeneticPool": "TE", "Diversity": 333},
      {"Season": "Harvest", "Cultivar": "Cabernet franc", "GeneticPool": "WE", "Low": 659, "High": 992},
      {"Season": "Harvest", "Cultivar": "Cabernet franc", "GeneticPool": "WE", "Diversity": 992},
      {"Season": "Harvest", "Cultivar": "Cabernet franc", "GeneticPool": "WE", "Diversity": 843},
      {"Season": "Harvest", "Cultivar": "Cabernet franc", "GeneticPool": "WE", "Diversity": 737},
      {"Season": "Harvest", "Cultivar": "Cabernet franc", "GeneticPool": "WE", "Diversity": 667},
      {"Season": "Harvest", "Cultivar": "Carignan", "GeneticPool": "WE", "Low": 161, "High": 678},
      {"Season": "Harvest", "Cultivar": "Carignan", "GeneticPool": "WE", "Diversity": 671},
      {"Season": "Harvest", "Cultivar": "Carignan", "GeneticPool": "WE", "Diversity": 549},
      {"Season": "Harvest", "Cultivar": "Carignan", "GeneticPool": "WE", "Diversity": 443},
      {"Season": "Harvest", "Cultivar": "Carignan", "GeneticPool": "WE", "Diversity": 255},
      {"Season": "Harvest", "Cultivar": "Carignan", "GeneticPool": "WE", "Diversity": 169},
      {"Season": "Harvest", "Cultivar": "Chardonnay blanc", "GeneticPool": "WW", "Low": 412, "High": 549},
      {"Season": "Harvest", "Cultivar": "Chardonnay blanc", "GeneticPool": "WW", "Diversity": 541},
      {"Season": "Harvest", "Cultivar": "Chardonnay blanc", "GeneticPool": "WW", "Diversity": 490},
      {"Season": "Harvest", "Cultivar": "Chardonnay blanc", "GeneticPool": "WW", "Diversity": 443},
      {"Season": "Harvest", "Cultivar": "Chardonnay blanc", "GeneticPool": "WW", "Diversity": 420},
      {"Season": "Harvest", "Cultivar": "Cinsaut", "GeneticPool": "WW", "Low": 384, "High": 855},
      {"Season": "Harvest", "Cultivar": "Cinsaut", "GeneticPool": "WW", "Diversity": 843},
      {"Season": "Harvest", "Cultivar": "Cinsaut", "GeneticPool": "WW", "Diversity": 678},
      {"Season": "Harvest", "Cultivar": "Cinsaut", "GeneticPool": "WW", "Diversity": 396},
      {"Season": "Harvest", "Cultivar": "Clairette", "GeneticPool": "TE", "Low": 239, "High": 906},
      {"Season": "Harvest", "Cultivar": "Clairette", "GeneticPool": "TE", "Diversity": 894},
      {"Season": "Harvest", "Cultivar": "Clairette", "GeneticPool": "TE", "Diversity": 718},
      {"Season": "Harvest", "Cultivar": "Clairette", "GeneticPool": "TE", "Diversity": 475},
      {"Season": "Harvest", "Cultivar": "Clairette", "GeneticPool": "TE", "Diversity": 247},
      {"Season": "Harvest", "Cultivar": "Gewurztraminer", "GeneticPool": "WW", "Low": 294, "High": 482},
      {"Season": "Harvest", "Cultivar": "Gewurztraminer", "GeneticPool": "WW", "Diversity": 475},
      {"Season": "Harvest", "Cultivar": "Gewurztraminer", "GeneticPool": "WW", "Diversity": 384},
      {"Season": "Harvest", "Cultivar": "Gewurztraminer", "GeneticPool": "WW", "Diversity": 306},
      {"Season": "Harvest", "Cultivar": "Gewurztraminer", "GeneticPool": "WW", "Diversity": 678},
      {"Season": "Harvest", "Cultivar": "Grenache noir", "GeneticPool": "WE", "Low": 373, "High": 580},
      {"Season": "Harvest", "Cultivar": "Grenache noir", "GeneticPool": "WE", "Diversity": 573},
      {"Season": "Harvest", "Cultivar": "Grenache noir", "GeneticPool": "WE", "Diversity": 482},
      {"Season": "Harvest", "Cultivar": "Grenache noir", "GeneticPool": "WE", "Diversity": 384},
      {"Season": "Harvest", "Cultivar": "Grenache noir", "GeneticPool": "WE", "Diversity": 776},
      {"Season": "Harvest", "Cultivar": "Grenache noir", "GeneticPool": "WE", "Diversity": 90},
      {"Season": "Harvest", "Cultivar": "Merlot", "GeneticPool": "TE", "Low": 31, "High": 475},
      {"Season": "Harvest", "Cultivar": "Merlot", "GeneticPool": "TE", "Diversity": 463},
      {"Season": "Harvest", "Cultivar": "Merlot", "GeneticPool": "TE", "Diversity": 333},
      {"Season": "Harvest", "Cultivar": "Merlot", "GeneticPool": "TE", "Diversity": 90},
      {"Season": "Harvest", "Cultivar": "Merlot", "GeneticPool": "TE", "Diversity": 43},
      {"Season": "Harvest", "Cultivar": "Muscat", "GeneticPool": "TE", "Low": 365, "High": 620},
      {"Season": "Harvest", "Cultivar": "Muscat", "GeneticPool": "TE", "Diversity": 608},
      {"Season": "Harvest", "Cultivar": "Muscat", "GeneticPool": "TE", "Diversity": 502},
      {"Season": "Harvest", "Cultivar": "Muscat", "GeneticPool": "TE", "Diversity": 443},
      {"Season": "Harvest", "Cultivar": "Muscat", "GeneticPool": "TE", "Diversity": 373},
      {"Season": "Harvest", "Cultivar": "Nebbiolo", "GeneticPool": "WE", "Low": 365, "High": 835},
      {"Season": "Harvest", "Cultivar": "Nebbiolo", "GeneticPool": "WE", "Diversity": 828},
      {"Season": "Harvest", "Cultivar": "Nebbiolo", "GeneticPool": "WE", "Diversity": 718},
      {"Season": "Harvest", "Cultivar": "Nebbiolo", "GeneticPool": "WE", "Diversity": 608},
      {"Season": "Harvest", "Cultivar": "Nebbiolo", "GeneticPool": "WE", "Diversity": 490},
      {"Season": "Harvest", "Cultivar": "Nebbiolo", "GeneticPool": "WE", "Diversity": 373},
      {"Season": "Harvest", "Cultivar": "Pinot gris", "GeneticPool": "WE", "Low": 600, "High": 667},
      {"Season": "Harvest", "Cultivar": "Pinot gris", "GeneticPool": "WE", "Diversity": 659},
      {"Season": "Harvest", "Cultivar": "Pinot gris", "GeneticPool": "WE", "Diversity": 620},
      {"Season": "Harvest", "Cultivar": "Riesling", "GeneticPool": "WW", "Low": 345, "High": 620},
      {"Season": "Harvest", "Cultivar": "Riesling", "GeneticPool": "WW", "Diversity": 608},
      {"Season": "Harvest", "Cultivar": "Riesling", "GeneticPool": "WW", "Diversity": 502},
      {"Season": "Harvest", "Cultivar": "Riesling", "GeneticPool": "WW", "Diversity": 365},
      {"Season": "Harvest", "Cultivar": "Sauvignon blanc", "GeneticPool": "WW", "Low": 188, "High": 863},
      {"Season": "Harvest", "Cultivar": "Sauvignon blanc", "GeneticPool": "WW", "Diversity": 855},
      {"Season": "Harvest", "Cultivar": "Sauvignon blanc", "GeneticPool": "WW", "Diversity": 718},
      {"Season": "Harvest", "Cultivar": "Sauvignon blanc", "GeneticPool": "WW", "Diversity": 404},
      {"Season": "Harvest", "Cultivar": "Sauvignon blanc", "GeneticPool": "WW", "Diversity": 247},
      {"Season": "Harvest", "Cultivar": "Sauvignon blanc", "GeneticPool": "WW", "Diversity": 196},
      {"Season": "Harvest", "Cultivar": "Ugni blanc", "GeneticPool": "TE", "Low": 341, "High": 796},
      {"Season": "Harvest", "Cultivar": "Ugni blanc", "GeneticPool": "TE", "Diversity": 784},
      {"Season": "Harvest", "Cultivar": "Ugni blanc", "GeneticPool": "TE", "Diversity": 678},
      {"Season": "Harvest", "Cultivar": "Ugni blanc", "GeneticPool": "TE", "Diversity": 467},
      {"Season": "Harvest", "Cultivar": "Ugni blanc", "GeneticPool": "TE", "Diversity": 357},
      {"Season": "Spring", "Cultivar": "Aramon", "GeneticPool": "TE", "Low": 333, "High": 1063},
      {"Season": "Spring", "Cultivar": "Aramon", "GeneticPool": "TE", "Diversity": 1051},
      {"Season": "Spring", "Cultivar": "Aramon", "GeneticPool": "TE", "Diversity": 796},
      {"Season": "Spring", "Cultivar": "Aramon", "GeneticPool": "TE", "Diversity": 451},
      {"Season": "Spring", "Cultivar": "Aramon", "GeneticPool": "TE", "Diversity": 341},
      {"Season": "Spring", "Cultivar": "Cabernet franc", "GeneticPool": "WE", "Low": 412, "High": 914},
      {"Season": "Spring", "Cultivar": "Cabernet franc", "GeneticPool": "WE", "Diversity": 902},
      {"Season": "Spring", "Cultivar": "Cabernet franc", "GeneticPool": "WE", "Diversity": 757},
      {"Season": "Spring", "Cultivar": "Cabernet franc", "GeneticPool": "WE", "Diversity": 647},
      {"Season": "Spring", "Cultivar": "Cabernet franc", "GeneticPool": "WE", "Diversity": 443},
      {"Season": "Spring", "Cultivar": "Carignan", "GeneticPool": "WE", "Low": 522, "High": 945},
      {"Season": "Spring", "Cultivar": "Carignan", "GeneticPool": "WE", "Diversity": 933},
      {"Season": "Spring", "Cultivar": "Carignan", "GeneticPool": "WE", "Diversity": 796},
      {"Season": "Spring", "Cultivar": "Carignan", "GeneticPool": "WE", "Diversity": 647},
      {"Season": "Spring", "Cultivar": "Carignan", "GeneticPool": "WE", "Diversity": 541},
      {"Season": "Spring", "Cultivar": "Chardonnay blanc", "GeneticPool": "WW", "Low": 384, "High": 843},
      {"Season": "Spring", "Cultivar": "Chardonnay blanc", "GeneticPool": "WW", "Diversity": 835},
      {"Season": "Spring", "Cultivar": "Chardonnay blanc", "GeneticPool": "WW", "Diversity": 659},
      {"Season": "Spring", "Cultivar": "Chardonnay blanc", "GeneticPool": "WW", "Diversity": 522},
      {"Season": "Spring", "Cultivar": "Chardonnay blanc", "GeneticPool": "WW", "Diversity": 396},
      {"Season": "Spring", "Cultivar": "Chardonnay blanc", "GeneticPool": "WW", "Diversity": 137},
      {"Season": "Spring", "Cultivar": "Cinsaut", "GeneticPool": "WW", "Low": 71, "High": 808},
      {"Season": "Spring", "Cultivar": "Cinsaut", "GeneticPool": "WW", "Diversity": 796},
      {"Season": "Spring", "Cultivar": "Cinsaut", "GeneticPool": "WW", "Diversity": 600},
      {"Season": "Spring", "Cultivar": "Cinsaut", "GeneticPool": "WW", "Diversity": 227},
      {"Season": "Spring", "Cultivar": "Cinsaut", "GeneticPool": "WW", "Diversity": 82},
      {"Season": "Spring", "Cultivar": "Clairette", "GeneticPool": "TE", "Low": 51, "High": 1384},
      {"Season": "Spring", "Cultivar": "Clairette", "GeneticPool": "TE", "Diversity": 1377},
      {"Season": "Spring", "Cultivar": "Clairette", "GeneticPool": "TE", "Diversity": 776},
      {"Season": "Spring", "Cultivar": "Clairette", "GeneticPool": "TE", "Diversity": 490},
      {"Season": "Spring", "Cultivar": "Clairette", "GeneticPool": "TE", "Diversity": 227},
      {"Season": "Spring", "Cultivar": "Clairette", "GeneticPool": "TE", "Diversity": 59},
      {"Season": "Spring", "Cultivar": "Gewurztraminer", "GeneticPool": "WW", "Low": 522, "High": 843},
      {"Season": "Spring", "Cultivar": "Gewurztraminer", "GeneticPool": "WW", "Diversity": 835},
      {"Season": "Spring", "Cultivar": "Gewurztraminer", "GeneticPool": "WW", "Diversity": 737},
      {"Season": "Spring", "Cultivar": "Gewurztraminer", "GeneticPool": "WW", "Diversity": 522},
      {"Season": "Spring", "Cultivar": "Gewurztraminer", "GeneticPool": "WW", "Diversity": 90},
      {"Season": "Spring", "Cultivar": "Grenache noir", "GeneticPool": "WE", "Low": 43, "High": 953},
      {"Season": "Spring", "Cultivar": "Grenache noir", "GeneticPool": "WE", "Diversity": 933},
      {"Season": "Spring", "Cultivar": "Grenache noir", "GeneticPool": "WE", "Diversity": 894},
      {"Season": "Spring", "Cultivar": "Grenache noir", "GeneticPool": "WE", "Diversity": 443},
      {"Season": "Spring", "Cultivar": "Grenache noir", "GeneticPool": "WE", "Diversity": 51},
      {"Season": "Spring", "Cultivar": "Merlot", "GeneticPool": "TE", "Low": 149, "High": 541},
      {"Season": "Spring", "Cultivar": "Merlot", "GeneticPool": "TE", "Diversity": 529},
      {"Season": "Spring", "Cultivar": "Merlot", "GeneticPool": "TE", "Diversity": 333},
      {"Season": "Spring", "Cultivar": "Merlot", "GeneticPool": "TE", "Diversity": 169},
      {"Season": "Spring", "Cultivar": "Muscat", "GeneticPool": "TE", "Low": 176, "High": 561},
      {"Season": "Spring", "Cultivar": "Muscat", "GeneticPool": "TE", "Diversity": 549},
      {"Season": "Spring", "Cultivar": "Muscat", "GeneticPool": "TE", "Diversity": 365},
      {"Season": "Spring", "Cultivar": "Muscat", "GeneticPool": "TE", "Diversity": 227},
      {"Season": "Spring", "Cultivar": "Nebbiolo", "GeneticPool": "WE", "Low": 788, "High": 875},
      {"Season": "Spring", "Cultivar": "Nebbiolo", "GeneticPool": "WE", "Diversity": 867},
      {"Season": "Spring", "Cultivar": "Nebbiolo", "GeneticPool": "WE", "Diversity": 816},
      {"Season": "Spring", "Cultivar": "Nebbiolo", "GeneticPool": "WE", "Diversity": 1102},
      {"Season": "Spring", "Cultivar": "Nebbiolo", "GeneticPool": "WE", "Diversity": 498},
      {"Season": "Spring", "Cultivar": "Pinot gris", "GeneticPool": "WE", "Low": 333, "High": 412},
      {"Season": "Spring", "Cultivar": "Pinot gris", "GeneticPool": "WE", "Diversity": 404},
      {"Season": "Spring", "Cultivar": "Pinot gris", "GeneticPool": "WE", "Diversity": 345},
      {"Season": "Spring", "Cultivar": "Riesling", "GeneticPool": "WW", "Low": 90, "High": 1130},
      {"Season": "Spring", "Cultivar": "Riesling", "GeneticPool": "WW", "Diversity": 1118},
      {"Season": "Spring", "Cultivar": "Riesling", "GeneticPool": "WW", "Diversity": 992},
      {"Season": "Spring", "Cultivar": "Riesling", "GeneticPool": "WW", "Diversity": 647},
      {"Season": "Spring", "Cultivar": "Riesling", "GeneticPool": "WW", "Diversity": 255},
      {"Season": "Spring", "Cultivar": "Riesling", "GeneticPool": "WW", "Diversity": 98},
      {"Season": "Spring", "Cultivar": "Sauvignon blanc", "GeneticPool": "WW", "Low": 4, "High": 255},
      {"Season": "Spring", "Cultivar": "Sauvignon blanc", "GeneticPool": "WW", "Diversity": 247},
      {"Season": "Spring", "Cultivar": "Sauvignon blanc", "GeneticPool": "WW", "Diversity": 149},
      {"Season": "Spring", "Cultivar": "Sauvignon blanc", "GeneticPool": "WW", "Diversity": 31},
      {"Season": "Spring", "Cultivar": "Sauvignon blanc", "GeneticPool": "WW", "Diversity": 553},
      {"Season": "Spring", "Cultivar": "Ugni blanc", "GeneticPool": "TE", "Low": 169, "High": 776},
      {"Season": "Spring", "Cultivar": "Ugni blanc", "GeneticPool": "TE", "Diversity": 765},
      {"Season": "Spring", "Cultivar": "Ugni blanc", "GeneticPool": "TE", "Diversity": 482},
      {"Season": "Spring", "Cultivar": "Ugni blanc", "GeneticPool": "TE", "Diversity": 267},
      {"Season": "Spring", "Cultivar": "Ugni blanc", "GeneticPool": "TE", "Diversity": 176}
    ],
    "alphaFun": [
      {"Season": "Harvest", "Cultivar": "Aramon", "GeneticPool": "TE", "Low": 40.7, "High": 99.7},
      {"Season": "Harvest", "Cultivar": "Aramon", "GeneticPool": "TE", "Diversity": 97.5},
      {"Season": "Harvest", "Cultivar": "Aramon", "GeneticPool": "TE", "Diversity": 65.4},
      {"Season": "Harvest", "Cultivar": "Aramon", "GeneticPool": "TE", "Diversity": 42.9},
      {"Season": "Harvest", "Cultivar": "Cabernet franc", "GeneticPool": "WE", "Low": 33.2, "High": 123.3},
      {"Season": "Harvest", "Cultivar": "Cabernet franc", "GeneticPool": "WE", "Diversity": 121},
      {"Season": "Harvest", "Cultivar": "Cabernet franc", "GeneticPool": "WE", "Diversity": 89},
      {"Season": "Harvest", "Cultivar": "Cabernet franc", "GeneticPool": "WE", "Diversity": 67.5},
      {"Season": "Harvest", "Cultivar": "Cabernet franc", "GeneticPool": "WE", "Diversity": 35.4},
      {"Season": "Harvest", "Cultivar": "Carignan", "GeneticPool": "WE", "Low": 48.2, "High": 107.2},
      {"Season": "Harvest", "Cultivar": "Carignan", "GeneticPool": "WE", "Diversity": 105},
      {"Season": "Harvest", "Cultivar": "Carignan", "GeneticPool": "WE", "Diversity": 83.6},
      {"Season": "Harvest", "Cultivar": "Carignan", "GeneticPool": "WE", "Diversity": 51.4},
      {"Season": "Harvest", "Cultivar": "Chardonnay blanc", "GeneticPool": "WW", "Low": 69.7, "High": 123.3},
      {"Season": "Harvest", "Cultivar": "Chardonnay blanc", "GeneticPool": "WW", "Diversity": 121},
      {"Season": "Harvest", "Cultivar": "Chardonnay blanc", "GeneticPool": "WW", "Diversity": 97.5},
      {"Season": "Harvest", "Cultivar": "Chardonnay blanc", "GeneticPool": "WW", "Diversity": 72.9},
      {"Season": "Harvest", "Cultivar": "Cinsaut", "GeneticPool": "WW", "Low": 86.8, "High": 147.9},
      {"Season": "Harvest", "Cultivar": "Cinsaut", "GeneticPool": "WW", "Diversity": 145.8},
      {"Season": "Harvest", "Cultivar": "Cinsaut", "GeneticPool": "WW", "Diversity": 126.5},
      {"Season": "Harvest", "Cultivar": "Cinsaut", "GeneticPool": "WW", "Diversity": 89},
      {"Season": "Harvest", "Cultivar": "Clairette", "GeneticPool": "TE", "Low": 60, "High": 134},
      {"Season": "Harvest", "Cultivar": "Clairette", "GeneticPool": "TE", "Diversity": 131.8},
      {"Season": "Harvest", "Cultivar": "Clairette", "GeneticPool": "TE", "Diversity": 94.3},
      {"Season": "Harvest", "Cultivar": "Clairette", "GeneticPool": "TE", "Diversity": 62.2},
      {"Season": "Harvest", "Cultivar": "Gewurztraminer", "GeneticPool": "WW", "Low": 69.7, "High": 123.3},
      {"Season": "Harvest", "Cultivar": "Gewurztraminer", "GeneticPool": "WW", "Diversity": 121},
      {"Season": "Harvest", "Cultivar": "Gewurztraminer", "GeneticPool": "WW", "Diversity": 99.7},
      {"Season": "Harvest", "Cultivar": "Gewurztraminer", "GeneticPool": "WW", "Diversity": 71.8},
      {"Season": "Harvest", "Cultivar": "Grenache noir", "GeneticPool": "WE", "Low": 58.9, "High": 110.4},
      {"Season": "Harvest", "Cultivar": "Grenache noir", "GeneticPool": "WE", "Diversity": 108.3},
      {"Season": "Harvest", "Cultivar": "Grenache noir", "GeneticPool": "WE", "Diversity": 86.8},
      {"Season": "Harvest", "Cultivar": "Grenache noir", "GeneticPool": "WE", "Diversity": 61.1},
      {"Season": "Harvest", "Cultivar": "Merlot", "GeneticPool": "TE", "Low": 69.7, "High": 121.1},
      {"Season": "Harvest", "Cultivar": "Merlot", "GeneticPool": "TE", "Diversity": 119},
      {"Season": "Harvest", "Cultivar": "Merlot", "GeneticPool": "TE", "Diversity": 93.2},
      {"Season": "Harvest", "Cultivar": "Merlot", "GeneticPool": "TE", "Diversity": 71.8},
      {"Season": "Harvest", "Cultivar": "Merlot", "GeneticPool": "TE", "Diversity": 156.5},
      {"Season": "Harvest", "Cultivar": "Muscat", "GeneticPool": "TE", "Low": 51.4, "High": 76.1},
      {"Season": "Harvest", "Cultivar": "Muscat", "GeneticPool": "TE", "Diversity": 74},
      {"Season": "Harvest", "Cultivar": "Muscat", "GeneticPool": "TE", "Diversity": 56.8},
      {"Season": "Harvest", "Cultivar": "Nebbiolo", "GeneticPool": "WE", "Low": 8.6, "High": 101.8},
      {"Season": "Harvest", "Cultivar": "Nebbiolo", "GeneticPool": "WE", "Diversity": 99.7},
      {"Season": "Harvest", "Cultivar": "Nebbiolo", "GeneticPool": "WE", "Diversity": 67.5},
      {"Season": "Harvest", "Cultivar": "Nebbiolo", "GeneticPool": "WE", "Diversity": 35.4},
      {"Season": "Harvest", "Cultivar": "Nebbiolo", "GeneticPool": "WE", "Diversity": 10.7},
      {"Season": "Harvest", "Cultivar": "Pinot gris", "GeneticPool": "WE", "Low": 83.6, "High": 110.4},
      {"Season": "Harvest", "Cultivar": "Pinot gris", "GeneticPool": "WE", "Diversity": 108.3},
      {"Season": "Harvest", "Cultivar": "Pinot gris", "GeneticPool": "WE", "Diversity": 89},
      {"Season": "Harvest", "Cultivar": "Riesling", "GeneticPool": "WW", "Low": 51.4, "High": 158.6},
      {"Season": "Harvest", "Cultivar": "Riesling", "GeneticPool": "WW", "Diversity": 156.5},
      {"Season": "Harvest", "Cultivar": "Riesling", "GeneticPool": "WW", "Diversity": 126.5},
      {"Season": "Harvest", "Cultivar": "Riesling", "GeneticPool": "WW", "Diversity": 89},
      {"Season": "Harvest", "Cultivar": "Riesling", "GeneticPool": "WW", "Diversity": 53.6},
      {"Season": "Harvest", "Cultivar": "Sauvignon blanc", "GeneticPool": "WW", "Low": 40.7, "High": 194},
      {"Season": "Harvest", "Cultivar": "Sauvignon blanc", "GeneticPool": "WW", "Diversity": 190.8},
      {"Season": "Harvest", "Cultivar": "Sauvignon blanc", "GeneticPool": "WW", "Diversity": 147.9},
      {"Season": "Harvest", "Cultivar": "Sauvignon blanc", "GeneticPool": "WW", "Diversity": 83.6},
      {"Season": "Harvest", "Cultivar": "Sauvignon blanc", "GeneticPool": "WW", "Diversity": 42.9},
      {"Season": "Harvest", "Cultivar": "Ugni blanc", "GeneticPool": "TE", "Low": 40.7, "High": 119},
      {"Season": "Harvest", "Cultivar": "Ugni blanc", "GeneticPool": "TE", "Diversity": 115.7},
      {"Season": "Harvest", "Cultivar": "Ugni blanc", "GeneticPool": "TE", "Diversity": 72.9},
      {"Season": "Harvest", "Cultivar": "Ugni blanc", "GeneticPool": "TE", "Diversity": 43.9},
      {"Season": "Spring", "Cultivar": "Aramon", "GeneticPool": "TE", "Low": 91.1, "High": 260.4},
      {"Season": "Spring", "Cultivar": "Aramon", "GeneticPool": "TE", "Diversity": 257.2},
      {"Season": "Spring", "Cultivar": "Aramon", "GeneticPool": "TE", "Diversity": 233.6},
      {"Season": "Spring", "Cultivar": "Aramon", "GeneticPool": "TE", "Diversity": 190.8},
      {"Season": "Spring", "Cultivar": "Aramon", "GeneticPool": "TE", "Diversity": 94.3},
      {"Season": "Spring", "Cultivar": "Cabernet franc", "GeneticPool": "WE", "Low": 161.8, "High": 198.3},
      {"Season": "Spring", "Cultivar": "Cabernet franc", "GeneticPool": "WE", "Diversity": 196.1},
      {"Season": "Spring", "Cultivar": "Cabernet franc", "GeneticPool": "WE", "Diversity": 180.1},
      {"Season": "Spring", "Cultivar": "Cabernet franc", "GeneticPool": "WE", "Diversity": 164},
      {"Season": "Spring", "Cultivar": "Carignan", "GeneticPool": "WE", "Low": 89, "High": 183.3},
      {"Season": "Spring", "Cultivar": "Carignan", "GeneticPool": "WE", "Diversity": 180.1},
      {"Season": "Spring", "Cultivar": "Carignan", "GeneticPool": "WE", "Diversity": 142.5},
      {"Season": "Spring", "Cultivar": "Carignan", "GeneticPool": "WE", "Diversity": 115.7},
      {"Season": "Spring", "Cultivar": "Carignan", "GeneticPool": "WE", "Diversity": 91.1},
      {"Season": "Spring", "Cultivar": "Chardonnay blanc", "GeneticPool": "WW", "Low": 91.1, "High": 251.9},
      {"Season": "Spring", "Cultivar": "Chardonnay blanc", "GeneticPool": "WW", "Diversity": 249.7},
      {"Season": "Spring", "Cultivar": "Chardonnay blanc", "GeneticPool": "WW", "Diversity": 201.5},
      {"Season": "Spring", "Cultivar": "Chardonnay blanc", "GeneticPool": "WW", "Diversity": 126.5},
      {"Season": "Spring", "Cultivar": "Chardonnay blanc", "GeneticPool": "WW", "Diversity": 92.2},
      {"Season": "Spring", "Cultivar": "Cinsaut", "GeneticPool": "WW", "Low": 30, "High": 292.6},
      {"Season": "Spring", "Cultivar": "Cinsaut", "GeneticPool": "WW", "Diversity": 290.5},
      {"Season": "Spring", "Cultivar": "Cinsaut", "GeneticPool": "WW", "Diversity": 239},
      {"Season": "Spring", "Cultivar": "Cinsaut", "GeneticPool": "WW", "Diversity": 161.8},
      {"Season": "Spring", "Cultivar": "Cinsaut", "GeneticPool": "WW", "Diversity": 97.5},
      {"Season": "Spring", "Cultivar": "Cinsaut", "GeneticPool": "WW", "Diversity": 33.2},
      {"Season": "Spring", "Cultivar": "Clairette", "GeneticPool": "TE", "Low": 30, "High": 373},
      {"Season": "Spring", "Cultivar": "Clairette", "GeneticPool": "TE", "Diversity": 370.5},
      {"Season": "Spring", "Cultivar": "Clairette", "GeneticPool": "TE", "Diversity": 281.9},
      {"Season": "Spring", "Cultivar": "Clairette", "GeneticPool": "TE", "Diversity": 233.6},
      {"Season": "Spring", "Cultivar": "Clairette", "GeneticPool": "TE", "Diversity": 166.1},
      {"Season": "Spring", "Cultivar": "Clairette", "GeneticPool": "TE", "Diversity": 37.5},
      {"Season": "Spring", "Cultivar": "Gewurztraminer", "GeneticPool": "WW", "Low": 40.7, "High": 314},
      {"Season": "Spring", "Cultivar": "Gewurztraminer", "GeneticPool": "WW", "Diversity": 311.9},
      {"Season": "Spring", "Cultivar": "Gewurztraminer", "GeneticPool": "WW", "Diversity": 255.1},
      {"Season": "Spring", "Cultivar": "Gewurztraminer", "GeneticPool": "WW", "Diversity": 187.6},
      {"Season": "Spring", "Cultivar": "Gewurztraminer", "GeneticPool": "WW", "Diversity": 144.7},
      {"Season": "Spring", "Cultivar": "Gewurztraminer", "GeneticPool": "WW", "Diversity": 43.9},
      {"Season": "Spring", "Cultivar": "Grenache noir", "GeneticPool": "WE", "Low": 54.7, "High": 308.7},
      {"Season": "Spring", "Cultivar": "Grenache noir", "GeneticPool": "WE", "Diversity": 306.5},
      {"Season": "Spring", "Cultivar": "Grenache noir", "GeneticPool": "WE", "Diversity": 255.1},
      {"Season": "Spring", "Cultivar": "Grenache noir", "GeneticPool": "WE", "Diversity": 190.8},
      {"Season": "Spring", "Cultivar": "Grenache noir", "GeneticPool": "WE", "Diversity": 91.1},
      {"Season": "Spring", "Cultivar": "Grenache noir", "GeneticPool": "WE", "Diversity": 56.8},
      {"Season": "Spring", "Cultivar": "Merlot", "GeneticPool": "TE", "Low": 22.5, "High": 222.9},
      {"Season": "Spring", "Cultivar": "Merlot", "GeneticPool": "TE", "Diversity": 219.7},
      {"Season": "Spring", "Cultivar": "Merlot", "GeneticPool": "TE", "Diversity": 174.7},
      {"Season": "Spring", "Cultivar": "Merlot", "GeneticPool": "TE", "Diversity": 56.8},
      {"Season": "Spring", "Cultivar": "Merlot", "GeneticPool": "TE", "Diversity": 26.8},
      {"Season": "Spring", "Cultivar": "Muscat", "GeneticPool": "TE", "Low": 24.7, "High": 217.6},
      {"Season": "Spring", "Cultivar": "Muscat", "GeneticPool": "TE", "Diversity": 214.4},
      {"Season": "Spring", "Cultivar": "Muscat", "GeneticPool": "TE", "Diversity": 158.6},
      {"Season": "Spring", "Cultivar": "Muscat", "GeneticPool": "TE", "Diversity": 69.7},
      {"Season": "Spring", "Cultivar": "Muscat", "GeneticPool": "TE", "Diversity": 26.8},
      {"Season": "Spring", "Cultivar": "Nebbiolo", "GeneticPool": "WE", "Low": 123.3, "High": 206.9},
      {"Season": "Spring", "Cultivar": "Nebbiolo", "GeneticPool": "WE", "Diversity": 204.7},
      {"Season": "Spring", "Cultivar": "Nebbiolo", "GeneticPool": "WE", "Diversity": 131.8},
      {"Season": "Spring", "Cultivar": "Nebbiolo", "GeneticPool": "WE", "Diversity": 126.5},
      {"Season": "Spring", "Cultivar": "Nebbiolo", "GeneticPool": "WE", "Diversity": 346.2},
      {"Season": "Spring", "Cultivar": "Pinot gris", "GeneticPool": "WE", "Low": 129.7, "High": 153.3},
      {"Season": "Spring", "Cultivar": "Pinot gris", "GeneticPool": "WE", "Diversity": 151.1},
      {"Season": "Spring", "Cultivar": "Pinot gris", "GeneticPool": "WE", "Diversity": 140.4},
      {"Season": "Spring", "Cultivar": "Pinot gris", "GeneticPool": "WE", "Diversity": 131.8},
      {"Season": "Spring", "Cultivar": "Riesling", "GeneticPool": "WW", "Low": 22.5, "High": 279.7},
      {"Season": "Spring", "Cultivar": "Riesling", "GeneticPool": "WW", "Diversity": 276.5},
      {"Season": "Spring", "Cultivar": "Riesling", "GeneticPool": "WW", "Diversity": 239},
      {"Season": "Spring", "Cultivar": "Riesling", "GeneticPool": "WW", "Diversity": 164},
      {"Season": "Spring", "Cultivar": "Riesling", "GeneticPool": "WW", "Diversity": 56.8},
      {"Season": "Spring", "Cultivar": "Riesling", "GeneticPool": "WW", "Diversity": 22.5},
      {"Season": "Spring", "Cultivar": "Sauvignon blanc", "GeneticPool": "WW", "Low": 3.2, "High": 151.1},
      {"Season": "Spring", "Cultivar": "Sauvignon blanc", "GeneticPool": "WW", "Diversity": 147.9},
      {"Season": "Spring", "Cultivar": "Sauvignon blanc", "GeneticPool": "WW", "Diversity": 67.5},
      {"Season": "Spring", "Cultivar": "Sauvignon blanc", "GeneticPool": "WW", "Diversity": 16.1},
      {"Season": "Spring", "Cultivar": "Sauvignon blanc", "GeneticPool": "WW", "Diversity": 5.4},
      {"Season": "Spring", "Cultivar": "Ugni blanc", "GeneticPool": "TE", "Low": 13.9, "High": 273.3},
      {"Season": "Spring", "Cultivar": "Ugni blanc", "GeneticPool": "TE", "Diversity": 271.2},
      {"Season": "Spring", "Cultivar": "Ugni blanc", "GeneticPool": "TE", "Diversity": 185.4},
      {"Season": "Spring", "Cultivar": "Ugni blanc", "GeneticPool": "TE", "Diversity": 62.2},
      {"Season": "Spring", "Cultivar": "Ugni blanc", "GeneticPool": "TE", "Diversity": 16.1}
    ],
    "bacPhyla": [
      {"Season": "Harvest", "Vineyard": "Chapitre", "Phylum": "Proteobacteria", "Abundance": 32.8},
      {"Season": "Harvest", "Vineyard": "Chapitre", "Phylum": "Firmicutes", "Abundance": 2.0},
      {"Season": "Harvest", "Vineyard": "Chapitre", "Phylum": "Cyanobacteria", "Abundance": 3.1},
      {"Season": "Harvest", "Vineyard": "Chapitre", "Phylum": "Actinobacteria", "Abundance": 5.6},
      {"Season": "Harvest", "Vineyard": "Vassal", "Phylum": "Proteobacteria", "Abundance": 33.7},
      {"Season": "Harvest", "Vineyard": "Vassal", "Phylum": "Firmicutes", "Abundance": 1.7},
      {"Season": "Harvest", "Vineyard": "Vassal", "Phylum": "Cyanobacteria", "Abundance": 5.4},
      {"Season": "Harvest", "Vineyard": "Vassal", "Phylum": "Bacteroidetes", "Abundance": 0.5},
      {"Season": "Harvest", "Vineyard": "Vassal", "Phylum": "Actinobacteria", "Abundance": 2.7},
      {"Season": "Spring", "Vineyard": "Chapitre", "Phylum": "Proteobacteria", "Abundance": 21.8},
      {"Season": "Spring", "Vineyard": "Chapitre", "Phylum": "Firmicutes", "Abundance": 0.3},
      {"Season": "Spring", "Vineyard": "Chapitre", "Phylum": "Cyanobacteria", "Abundance": 21.4},
      {"Season": "Spring", "Vineyard": "Chapitre", "Phylum": "Actinobacteria", "Abundance": 0.6},
      {"Season": "Spring", "Vineyard": "Vassal", "Phylum": "Proteobacteria", "Abundance": 17.2},
      {"Season": "Spring", "Vineyard": "Vassal", "Phylum": "Firmicutes", "Abundance": 2.4},
      {"Season": "Spring", "Vineyard": "Vassal", "Phylum": "Cyanobacteria", "Abundance": 18.3},
      {"Season": "Spring", "Vineyard": "Vassal", "Phylum": "Actinobacteria", "Abundance": 5.3}
    ],
    "fungPhyla": [
      {"Season": "Harvest", "Vineyard": "Chapitre", "Phylum": "p__Basidiomycota", "Abundance": 0.5},
      {"Season": "Harvest", "Vineyard": "Chapitre", "Phylum": "p__Ascomycota", "Abundance": 42.5},
      {"Season": "Harvest", "Vineyard": "Chapitre", "Phylum": "p__Ascomycota", "Abundance": 0.9},
      {"Season": "Harvest", "Vineyard": "Vassal", "Phylum": "p__Basidiomycota", "Abundance": 1.9},
      {"Season": "Harvest", "Vineyard": "Vassal", "Phylum": "p__Ascomycota", "Abundance": 23.1},
      {"Season": "Harvest", "Vineyard": "Vassal", "Phylum": "p__Ascomycota", "Abundance": 19.4},
      {"Season": "Spring", "Vineyard": "Chapitre", "Phylum": "p__Basidiomycota", "Abundance": 5.7},
      {"Season": "Spring", "Vineyard": "Chapitre", "Phylum": "p__Ascomycota", "Abundance": 36.4},
      {"Season": "Spring", "Vineyard": "Chapitre", "Phylum": "p__Ascomycota", "Abundance": 1.8},
      {"Season": "Spring", "Vineyard": "Vassal", "Phylum": "p__Basidiomycota", "Abundance": 5.4},
      {"Season": "Spring", "Vineyard": "Vassal", "Phylum": "p__Ascomycota", "Abundance": 37.2}
    ]
  }
}
